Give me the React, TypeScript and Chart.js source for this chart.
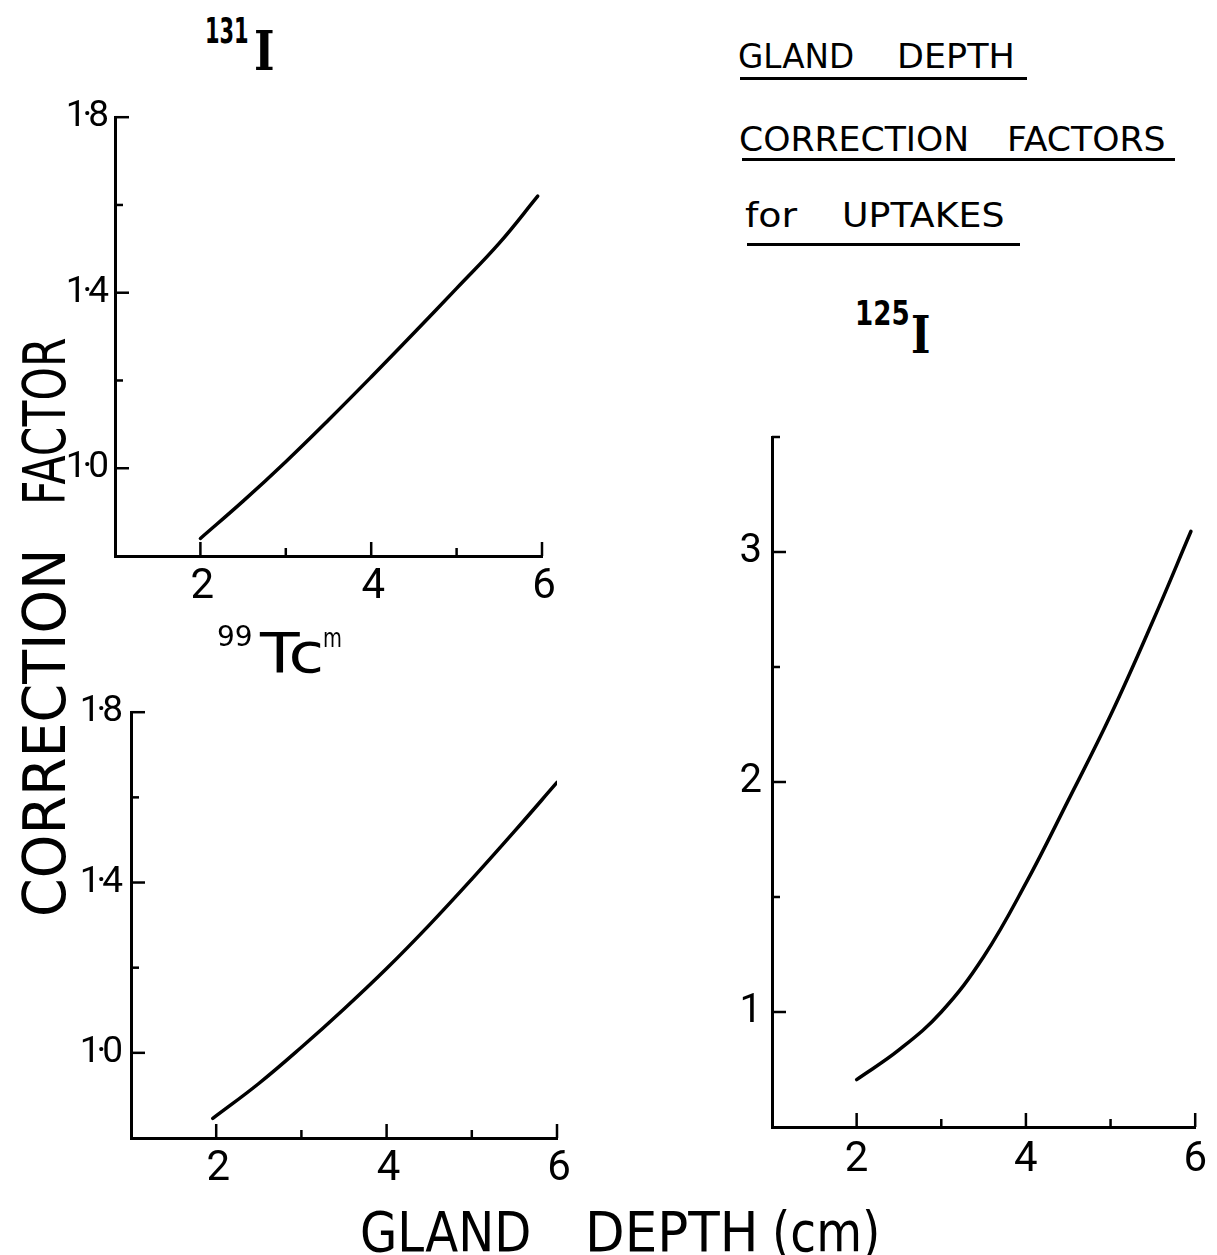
import React, { useEffect, useRef } from "react";
import { Chart, registerables } from "chart.js";

Chart.register(...registerables);

// ---- data ----
const depthI131 = [2, 2.5, 3, 3.5, 4, 4.5, 5, 5.5, 5.95];
const factorI131 = [0.84, 0.925, 1.015, 1.11, 1.208, 1.308, 1.41, 1.513, 1.62];

const depthTc99m = [1.96, 2.5, 3, 3.5, 4, 4.5, 5, 5.5, 6];
const factorTc99m = [0.846, 0.928, 1.013, 1.103, 1.198, 1.3, 1.408, 1.52, 1.635];

const depthI125 = [2, 2.5, 3, 3.5, 4, 4.5, 5, 5.5, 5.95];
const factorI125 = [0.706, 0.835, 1.0, 1.24, 1.56, 1.92, 2.29, 2.7, 3.09];

const xTickLabels: Record<string, string> = { "2": "2", "4": "4", "6": "6" };
const smallYTickLabels: Record<string, string> = { "1": "1·0", "1.4": "1·4", "1.8": "1·8" };
const bigYTickLabels: Record<string, string> = { "1": "1", "2": "2", "3": "3" };

const SANS = "'DejaVu Sans', sans-serif";
const SERIF = "'DejaVu Serif', serif";
const TICKFONT = "Roboto, 'DejaVu Sans', sans-serif";

const keyOf = (v: number) => String(Math.round(v * 10) / 10);

const inwardTicks = {
  id: "inwardTicks",
  beforeDraw(chart: any, _args: any, opts: any) {
    (chart.ctx as any).letterSpacing = `${opts.spacing ?? 0}px`;
  },
  afterDraw(chart: any, _args: any, opts: any) {
    const { ctx, chartArea, scales } = chart;
    (ctx as any).letterSpacing = "0px";
    const major = opts.major ?? 14;
    const minor = opts.minor ?? 8;
    ctx.save();
    ctx.strokeStyle = "#000";
    ctx.lineWidth = 2.5;
    ctx.lineCap = "butt";
    const ys = scales.y;
    ys.ticks.forEach((t: any) => {
      if (Math.abs(t.value - ys.min) < 1e-6) return;
      const py = ys.getPixelForValue(t.value);
      const len = opts.yLabels[keyOf(t.value)] ? major : minor;
      ctx.beginPath();
      ctx.moveTo(chartArea.left, py);
      ctx.lineTo(chartArea.left + len, py);
      ctx.stroke();
    });
    const xs = scales.x;
    xs.ticks.forEach((t: any) => {
      if (Math.abs(t.value - xs.min) < 1e-6) return;
      const px = xs.getPixelForValue(t.value);
      const len = xTickLabels[keyOf(t.value)] ? major : minor;
      ctx.beginPath();
      ctx.moveTo(px, chartArea.bottom);
      ctx.lineTo(px, chartArea.bottom - len);
      ctx.stroke();
    });
    ctx.restore();
  },
};

type Box = { left: number; top: number; width: number; height: number };
type Area = { left: number; top: number; right: number; bottom: number };

function Panel(props: {
  box: Box;
  area: Area;
  xs: number[];
  ys: number[];
  yMin: number;
  yMax: number;
  yStep: number;
  yLabels: Record<string, string>;
  yFont: number;
  xFont: number;
  yPad: number;
  xPad: number;
  spacing: number;
}) {
  const ref = useRef<HTMLCanvasElement>(null);
  const { box, area, xs, ys, yMin, yMax, yStep, yLabels, yFont, xFont, yPad, xPad, spacing } = props;
  useEffect(() => {
    if (!ref.current) return;
    const chart = new Chart(ref.current, {
      type: "line",
      data: {
        datasets: [
          {
            data: xs.map((x, i) => ({ x, y: ys[i] })),
            borderColor: "#000",
            borderWidth: 3.5,
            pointRadius: 0,
            fill: false,
            tension: 0.4,
            borderCapStyle: "round",
          } as any,
        ],
      },
      options: {
        animation: false,
        responsive: false,
        maintainAspectRatio: false,
        layout: {
          padding: {
            left: 0,
            top: area.top - box.top,
            right: box.left + box.width - area.right,
            bottom: 0,
          },
        },
        plugins: {
          legend: { display: false },
          tooltip: { enabled: false },
          inwardTicks: { yLabels, major: 14, minor: 8, spacing },
        } as any,
        scales: {
          x: {
            type: "linear",
            min: 1,
            max: 6,
            ticks: {
              stepSize: 1,
              autoSkip: false,
              maxRotation: 0,
              color: "#000",
              padding: xPad,
              font: { family: TICKFONT, size: xFont },
              callback: (v: any) => xTickLabels[keyOf(Number(v))] ?? "",
            },
            grid: { display: false, drawTicks: false },
            border: { display: true, color: "#000", width: 3 },
            afterFit: (s: any) => {
              s.height = box.top + box.height - area.bottom;
            },
          },
          y: {
            type: "linear",
            min: yMin,
            max: yMax,
            ticks: {
              stepSize: yStep,
              autoSkip: false,
              color: "#000",
              padding: yPad,
              font: { family: TICKFONT, size: yFont },
              callback: (v: any) => yLabels[keyOf(Number(v))] ?? "",
            },
            grid: { display: false, drawTicks: false },
            border: { display: true, color: "#000", width: 3 },
            afterFit: (s: any) => {
              s.width = area.left - box.left;
            },
          },
        },
      },
      plugins: [inwardTicks as any],
    });
    return () => chart.destroy();
  }, []);
  return (
    <canvas
      ref={ref}
      width={box.width}
      height={box.height}
      style={{ position: "absolute", left: box.left, top: box.top, width: box.width, height: box.height }}
    />
  );
}

function Txt(p: { x: number; base: number; size: number; text: string; sx?: number; family?: string; weight?: number }) {
  const { x, base, size, text, sx = 1, family = SANS, weight = 400 } = p;
  return (
    <div
      style={{
        position: "absolute",
        left: x,
        top: base - 0.846 * size,
        fontSize: size,
        lineHeight: `${size}px`,
        fontFamily: family,
        fontWeight: weight,
        whiteSpace: "pre",
        transform: `scaleX(${sx})`,
        transformOrigin: "left top",
        color: "#000",
      }}
    >
      {text}
    </div>
  );
}

function VTxt(p: { capLeft: number; startY: number; size: number; text: string; sx?: number }) {
  const { capLeft, startY, size, text, sx = 1 } = p;
  return (
    <div
      style={{
        position: "absolute",
        left: capLeft - 0.117 * size,
        top: startY,
        fontSize: size,
        lineHeight: `${size}px`,
        fontFamily: SANS,
        whiteSpace: "pre",
        transform: `rotate(-90deg) scaleX(${sx})`,
        transformOrigin: "left top",
        color: "#000",
      }}
    >
      {text}
    </div>
  );
}

function Rule(p: { x1: number; x2: number; y: number }) {
  return <div style={{ position: "absolute", left: p.x1, top: p.y, width: p.x2 - p.x1, height: 3, background: "#000" }} />;
}

export default function App() {
  return (
    <div
      style={{
        position: "absolute",
        left: 0,
        top: 0,
        width: 1217,
        height: 1255,
        overflow: "hidden",
        background: "#fff",
      }}
    >
      <Panel
        box={{ left: 30, top: 85, width: 540, height: 545 }}
        area={{ left: 115, top: 117, right: 542, bottom: 556 }}
        xs={depthI131}
        ys={factorI131}
        yMin={0.8}
        yMax={1.8}
        yStep={0.2}
        yLabels={smallYTickLabels}
        yFont={37}
        xFont={42}
        yPad={10}
        xPad={6}
        spacing={-4}
      />
      <Panel
        box={{ left: 40, top: 678, width: 550, height: 532 }}
        area={{ left: 131, top: 710, right: 557, bottom: 1138 }}
        xs={depthTc99m}
        ys={factorTc99m}
        yMin={0.8}
        yMax={1.8}
        yStep={0.2}
        yLabels={smallYTickLabels}
        yFont={37}
        xFont={42}
        yPad={12}
        xPad={6}
        spacing={-4}
      />
      <Panel
        box={{ left: 690, top: 403, width: 525, height: 797 }}
        area={{ left: 772, top: 435, right: 1200, bottom: 1127 }}
        xs={depthI125}
        ys={factorI125}
        yMin={0.5}
        yMax={3.5}
        yStep={0.5}
        yLabels={bigYTickLabels}
        yFont={40}
        xFont={42}
        yPad={10}
        xPad={8}
        spacing={0}
      />

      {/* isotope labels */}
      <Txt x={205} base={43} size={36} text="131" sx={0.58} weight={700} />
      <Txt x={254} base={70} size={55} text="I" sx={0.8} family={SERIF} weight={700} />
      <Txt x={217} base={647} size={28} text="99" />
      <Txt x={260} base={673} size={55} text="Tc" sx={1.18} />
      <Txt x={323} base={647} size={27} text="m" sx={0.72} />
      <Txt x={855} base={325} size={34} text="125" sx={0.77} weight={700} />
      <Txt x={911} base={353} size={52} text="I" sx={0.8} family={SERIF} weight={700} />

      {/* heading */}
      <Txt x={738} base={68} size={33} text="GLAND" sx={0.99} />
      <Txt x={897} base={68} size={33} text="DEPTH" sx={1.06} />
      <Rule x1={740} x2={1027} y={77} />
      <Txt x={739} base={151} size={33} text="CORRECTION" sx={1.05} />
      <Txt x={1007} base={151} size={33} text="FACTORS" sx={1.05} />
      <Rule x1={742} x2={1175} y={158} />
      <Txt x={745} base={227} size={33} text="for" sx={1.15} />
      <Txt x={842} base={227} size={33} text="UPTAKES" sx={1.1} />
      <Rule x1={747} x2={1020} y={243} />

      {/* axis titles */}
      <VTxt capLeft={22} startY={917} size={59} text="CORRECTION" sx={0.94} />
      <VTxt capLeft={22} startY={505} size={59} text="FACTOR" sx={0.72} />
      <Txt x={360} base={1251} size={56} text="GLAND" sx={0.86} />
      <Txt x={585} base={1251} size={56} text="DEPTH" sx={0.92} />
      <Txt x={772} base={1251} size={56} text="(cm)" sx={0.84} />
    </div>
  );
}
